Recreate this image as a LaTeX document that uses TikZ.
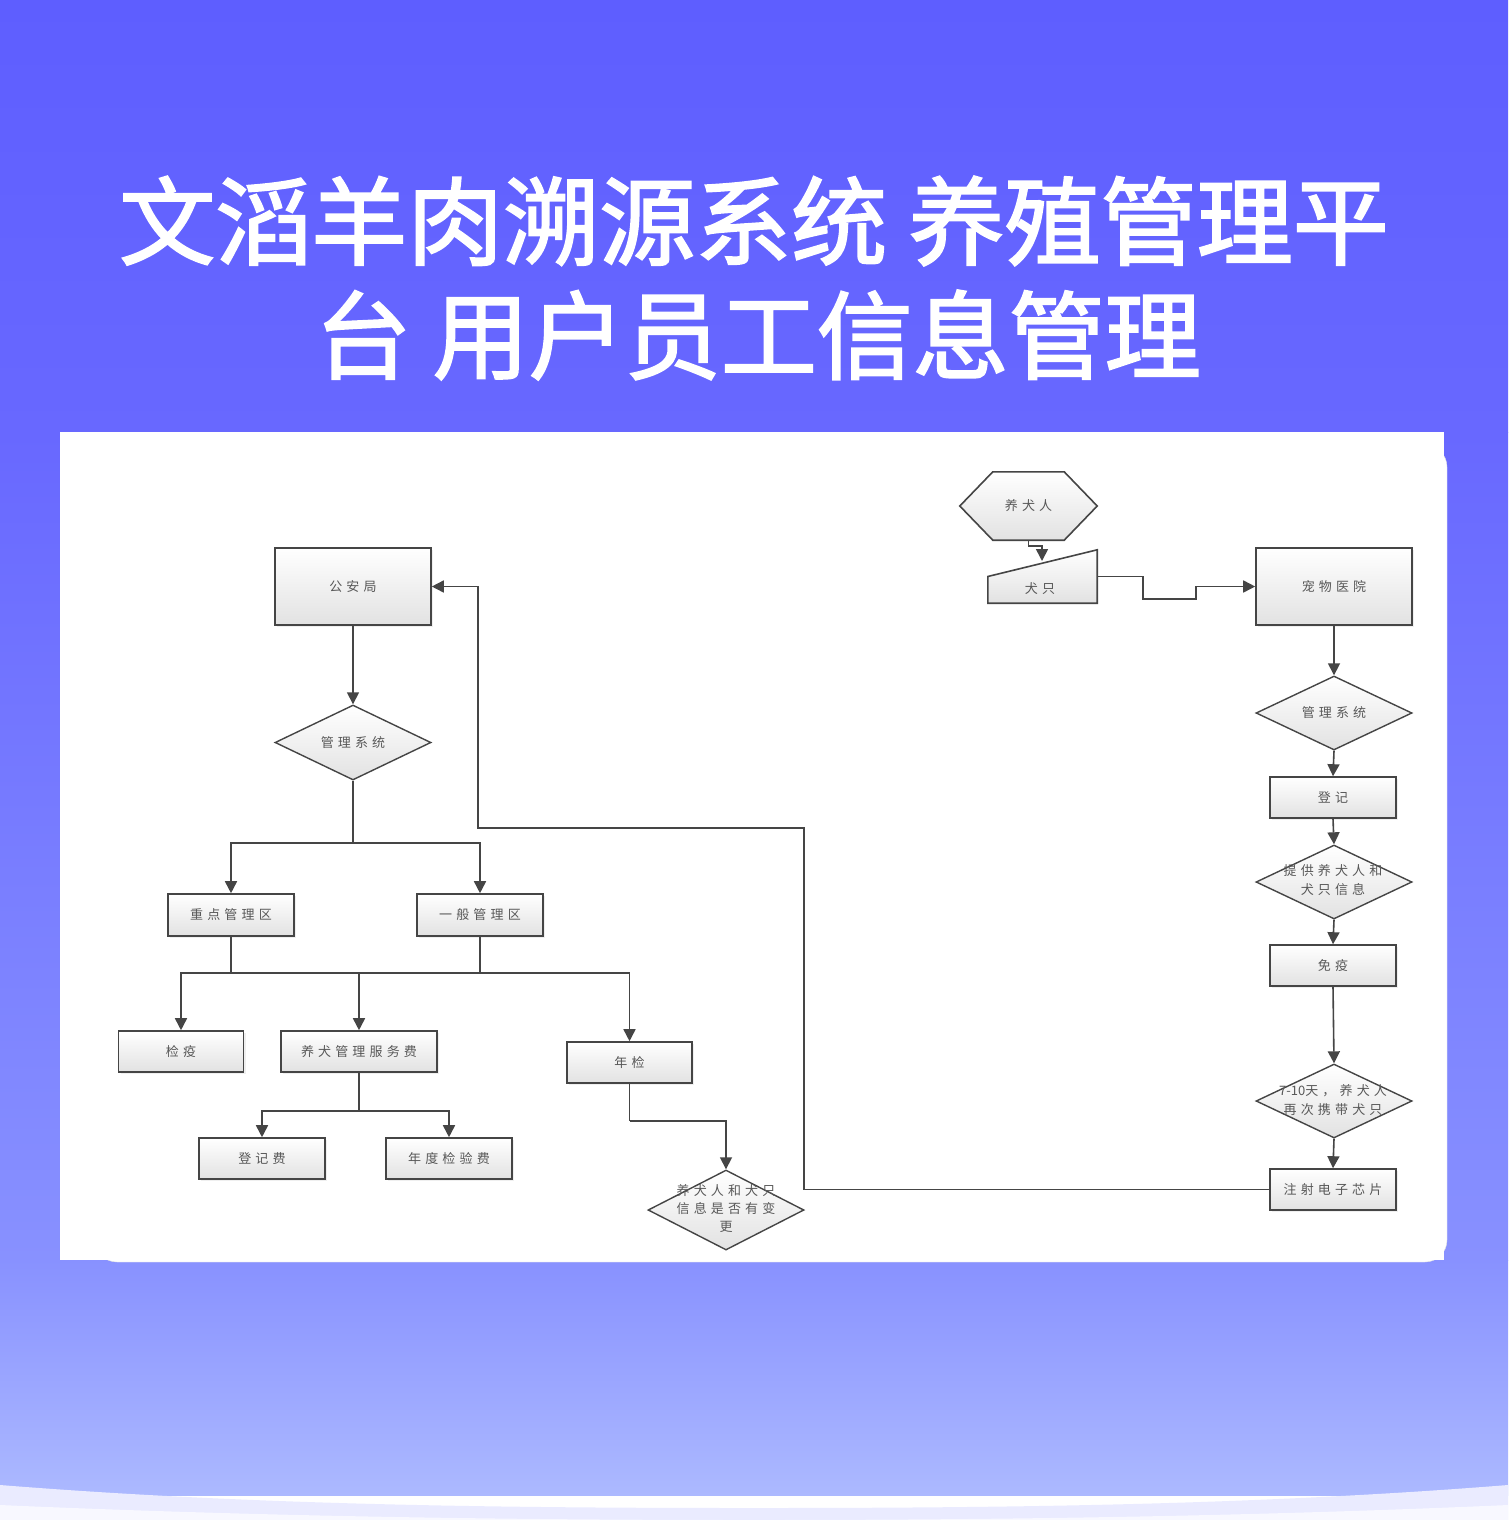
\documentclass[tikz,border=0pt]{standalone}
\usepackage{fontspec}
\newfontfamily\cjk{Noto Sans CJK SC}
\newfontfamily\cjktitle{Noto Sans CJK SC}[FakeBold=2]
\newfontfamily\cjkbox{Noto Sans CJK SC}[LetterSpace=32]
\usetikzlibrary{arrows.meta,shadows,shapes.geometric,calc}
\definecolor{lncol}{HTML}{454545}
\definecolor{txtcol}{HTML}{585858}
\definecolor{boxbot}{HTML}{E2E2E2}
\definecolor{bgA}{HTML}{5E5EFF}
\definecolor{bgB}{HTML}{6868FF}
\definecolor{bgC}{HTML}{8891FF}
\definecolor{bgD}{HTML}{ACB9FF}
\definecolor{bandA}{HTML}{EAEBFF}
\definecolor{bandB}{HTML}{F8F8FF}
\begin{document}
\begin{tikzpicture}[x=1pt,y=-1pt,
  boxfont/.style={font=\cjkbox\fontsize{13}{19}\selectfont},
  flowbox/.style={draw=lncol, line width=1.6pt, top color=white, bottom color=boxbot,
    text=txtcol, boxfont, inner sep=0pt, minimum width=#1,
    drop shadow={opacity=0.12, shadow xshift=2pt, shadow yshift=-2pt}},
  dia/.style={shape=diamond, draw=lncol, line width=1.4pt, top color=white, bottom color=boxbot,
    inner sep=0pt, minimum width=156pt, minimum height=#1},
  dtext/.style={text=txtcol, boxfont, align=center, inner sep=0pt},
  ln/.style={draw=lncol, line width=1.6pt},
  arr/.style={ln, -{Triangle[length=12pt,width=12pt]}}
]
\useasboundingbox (0,0) rectangle (1508,1520);
% background
\shade[top color=bgA, bottom color=bgB] (0,0) rectangle (1508,432);
\shade[top color=bgB, bottom color=bgC] (0,432) rectangle (1508,1260);
\shade[top color=bgC, bottom color=bgD] (0,1260) rectangle (1508,1495);
\fill[bandA] (0,1485) .. controls (250,1505) and (500,1508) .. (754,1508)
  .. controls (1008,1508) and (1258,1505) .. (1508,1485) -- (1508,1520) -- (0,1520) -- cycle;
\fill[bandB] (0,1505) .. controls (250,1516) and (500,1520) .. (754,1520)
  .. controls (1008,1520) and (1258,1516) .. (1508,1505) -- (1508,1520) -- (0,1520) -- cycle;
% title
\node[text=white, font=\cjktitle\fontsize{96}{110}\selectfont] (t1) at (754,221) {文滔羊肉溯源系统 养殖管理平};
\node[text=white, font=\cjktitle\fontsize{96}{110}\selectfont] (t2) at (758,335) {台 用户员工信息管理};
% panel
\fill[white, draw=black!12, rounded corners=22pt] (95,445) rectangle (1447,1262);
\fill[white] (60,432) rectangle (1444,1260);

% left nodes
\node[flowbox=156pt, minimum height=77pt] (gaj) at (353,586.5) {公安局};
\node[dia=75pt] (gl1) at (353,742.5) {};
\node[dtext] (gl1t) at (gl1) {管理系统};
\node[flowbox=126pt, minimum height=42pt] (zd) at (231,915) {重点管理区};
\node[flowbox=126pt, minimum height=42pt] (yb) at (480,915) {一般管理区};
\node[flowbox=125pt, minimum height=41pt] (jy) at (181,1051.5) {检疫};
\node[flowbox=156pt, minimum height=41pt] (yf) at (359,1051.5) {养犬管理服务费};
\node[flowbox=125pt, minimum height=41pt] (nj) at (629.5,1062.5) {年检};
\node[flowbox=126pt, minimum height=41pt] (djf) at (262,1158.5) {登记费};
\node[flowbox=126pt, minimum height=41pt] (ndf) at (449,1158.5) {年度检验费};
\node[dia=80pt] (bg) at (726,1210) {};
\node[dtext, font=\cjkbox\fontsize{13}{18}\selectfont] (bgt) at (726,1208) {养犬人和犬只\\信息是否有变\\更};

% right nodes
\node[minimum width=137pt, minimum height=68pt, inner sep=0pt] (hex) at (1028.5,506) {};
\filldraw[ln, top color=white, bottom color=boxbot]
  (hex.west) -- ($(hex.north west)+(33,0)$) -- ($(hex.north east)+(-33,0)$) -- (hex.east)
  -- ($(hex.south east)+(-33,0)$) -- ($(hex.south west)+(33,0)$) -- cycle;
\node[dtext] (hext) at (hex) {养犬人};
\node[minimum width=109pt, minimum height=53pt, inner sep=0pt] (qz) at (1042.5,576.5) {};
\filldraw[ln, top color=white, bottom color=boxbot]
  (qz.south west) -- (qz.south east) -- (qz.north east) -- (qz.west) -- cycle;
\node[dtext] (qzt) at (1040,589) {犬只};
\node[flowbox=156pt, minimum height=77pt] (cw) at (1334,586.5) {宠物医院};
\node[dia=74pt] (gl2) at (1334,713) {};
\node[dtext] (gl2t) at (gl2) {管理系统};
\node[flowbox=126pt, minimum height=41pt] (dj) at (1333,797.5) {登记};
\node[dia=74pt] (tg) at (1334,882) {};
\node[dtext] (tgt) at (1333,880) {提供养犬人和\\犬只信息};
\node[flowbox=126pt, minimum height=41pt] (my) at (1333,965.5) {免疫};
\node[dia=74pt] (zc) at (1334,1101) {};
\node[dtext] (zct) at (1333,1100) {{\addfontfeatures{LetterSpace=0}7-10}天，养犬人\\再次携带犬只};
\node[flowbox=126pt, minimum height=41pt] (zs) at (1333,1189.5) {注射电子芯片};

% left connectors
\coordinate (hA) at (0,843);
\coordinate (hB) at (0,973);
\coordinate (hC) at (0,1111);
\coordinate (hD) at (0,1121);
\draw[arr] (gaj.south) -- (gl1.north);
\draw[ln] (gl1.south) -- (gl1.south |- hA);
\draw[arr] (gl1.south |- hA) -| (zd.north);
\draw[arr] (gl1.south |- hA) -| (yb.north);
\draw[ln] (zd.south) -- (zd.south |- hB);
\draw[ln] (yb.south) -- (yb.south |- hB);
\draw[ln] (zd.south |- hB) -- (yb.south |- hB);
\draw[arr] (zd.south |- hB) -| (jy.north);
\draw[arr] (zd.south |- hB) -| (yf.north);
\draw[arr] (yb.south |- hB) -| (nj.north);
\draw[ln] (yf.south) -- (yf.south |- hC);
\draw[arr] (yf.south |- hC) -| (djf.north);
\draw[arr] (yf.south |- hC) -| (ndf.north);
\draw[ln] (nj.south) -- (nj.south |- hD);
\draw[arr] (nj.south |- hD) -| (bg.north);

% right connectors
\coordinate (qtop) at (1042,561);
\draw[arr] (hex.south) -- ++(0,6) -| (qtop);
\draw[arr] (qz.east) -- (1143,576.5) -- (1143,599) -- (1196,599) -- (1196,586.5) -- (cw.west);
\draw[arr] (cw.south) -- (gl2.north);
\draw[arr] (gl2.south) -- (dj.north);
\draw[arr] (dj.south) -- (tg.north);
\draw[arr] (tg.south) -- (my.north);
\draw[arr] (my.south) -- (zc.north);
\draw[arr] (zc.south) -- (zs.north);
\draw[arr] (zs.west) -- (804,1189.5) -- (804,828) -- (478,828) -- (478,586.5) -- (gaj.east);
\end{tikzpicture}
\end{document}
